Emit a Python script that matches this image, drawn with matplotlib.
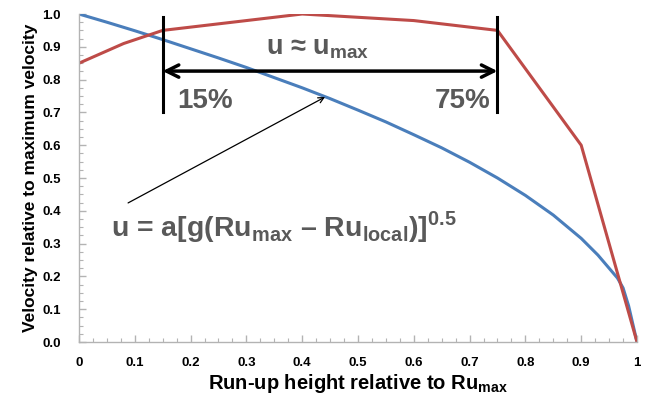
import matplotlib
matplotlib.use("Agg")
import matplotlib.pyplot as plt
from matplotlib.ticker import MultipleLocator, FixedLocator

# blue curve: velocity along run-up
blue_x = [0.0, 0.05, 0.1, 0.15, 0.2, 0.25, 0.3, 0.35, 0.4, 0.45, 0.5, 0.55, 0.6,
          0.65, 0.7, 0.75, 0.8, 0.85, 0.9, 0.93, 0.95, 0.965, 0.975, 0.985, 1.0]
blue_y = [1.0, 0.975, 0.949, 0.922, 0.894, 0.866, 0.837, 0.806, 0.775, 0.742,
          0.707, 0.671, 0.632, 0.592, 0.548, 0.500, 0.447, 0.387, 0.316, 0.265,
          0.225, 0.195, 0.165, 0.11, 0.0]

# red curve: measured profile
red_x = [0.0, 0.08, 0.15, 0.4, 0.6, 0.75, 0.9, 1.0]
red_y = [0.85, 0.91, 0.95, 1.0, 0.98, 0.95, 0.60, 0.0]

x_ticks = [0, 0.1, 0.2, 0.3, 0.4, 0.5, 0.6, 0.7, 0.8, 0.9, 1.0]
x_tick_labels = ["0", "0.1", "0.2", "0.3", "0.4", "0.5", "0.6", "0.7", "0.8", "0.9", "1"]
y_ticks = [0.0, 0.1, 0.2, 0.3, 0.4, 0.5, 0.6, 0.7, 0.8, 0.9, 1.0]

range_lo, range_hi = 0.15, 0.75

BLUE = "#4a7ebb"
RED = "#be4b48"
GRAY = "#595959"

plt.rcParams["font.family"] = ["Liberation Sans", "DejaVu Sans"]
plt.rcParams["mathtext.fontset"] = "custom"
plt.rcParams["mathtext.bf"] = "Liberation Sans:bold"
plt.rcParams["mathtext.rm"] = "Liberation Sans"

fig = plt.figure(figsize=(6.5, 3.98), dpi=100)
ax = fig.add_axes([0.1215, 0.1407, 0.98 - 0.1215, 0.9648 - 0.1407])

ax.plot(blue_x, blue_y, color=BLUE, lw=2.2, solid_capstyle="round")
ax.plot(red_x, red_y, color=RED, lw=2.2, solid_capstyle="round")

ax.set_xlim(0, 1)
ax.set_ylim(0, 1)

# vertical range markers and double arrow
for xv in (range_lo, range_hi):
    ax.plot([xv, xv], [0.70, 0.99], color="black", lw=2.2)
ax.annotate("", xy=(range_hi, 0.826), xytext=(range_lo, 0.826),
            arrowprops=dict(arrowstyle="<->", lw=2.5, color="black",
                            mutation_scale=22, shrinkA=0, shrinkB=0))

ax.text(0.427, 0.895, r"u ≈ u$_{\mathbf{max}}$", color=GRAY, fontsize=19.5,
        fontweight="bold", ha="center", va="center")
ax.text(0.177, 0.713, "15%", color=GRAY, fontsize=20, fontweight="bold",
        ha="left", va="baseline")
ax.text(0.737, 0.713, "75%", color=GRAY, fontsize=20, fontweight="bold",
        ha="right", va="baseline")

ax.annotate("", xy=(0.441, 0.747), xytext=(0.088, 0.424),
            arrowprops=dict(arrowstyle="->", lw=0.9, color="black",
                            shrinkA=0, shrinkB=0))
ax.text(0.058, 0.35,
        r"u = a[g(Ru$_{\mathbf{max}}$ – Ru$_{\mathbf{local}}$)]$^{\mathbf{0.5}}$",
        color=GRAY, fontsize=20.5, fontweight="bold", ha="left", va="center")

ax.xaxis.set_major_locator(FixedLocator(x_ticks))
ax.set_xticklabels(x_tick_labels)
ax.yaxis.set_major_locator(FixedLocator(y_ticks))
ax.set_yticklabels([f"{v:.1f}" for v in y_ticks])
ax.xaxis.set_minor_locator(MultipleLocator(0.025))
ax.yaxis.set_minor_locator(MultipleLocator(0.025))

for side in ("top", "right"):
    ax.spines[side].set_visible(False)
for side in ("left", "bottom"):
    ax.spines[side].set_color("#b3b3b3")
    ax.spines[side].set_linewidth(1.0)

ax.tick_params(which="both", direction="in", color="#b3b3b3")
ax.tick_params(which="major", length=5, width=1.0, labelsize=9.5)
ax.tick_params(axis="x", which="major", pad=11)
ax.tick_params(axis="y", which="major", pad=13)
ax.tick_params(which="minor", length=3, width=0.8)
for lbl in ax.get_xticklabels() + ax.get_yticklabels():
    lbl.set_fontweight("bold")

ax.set_xlabel(r"Run-up height relative to Ru$_{\mathbf{max}}$", fontsize=14.5,
              fontweight="bold", labelpad=2)
ax.set_ylabel("Velocity relative to maximum velocity", fontsize=12.5,
              fontweight="bold", labelpad=3)

fig.savefig("out.png", dpi=100)
